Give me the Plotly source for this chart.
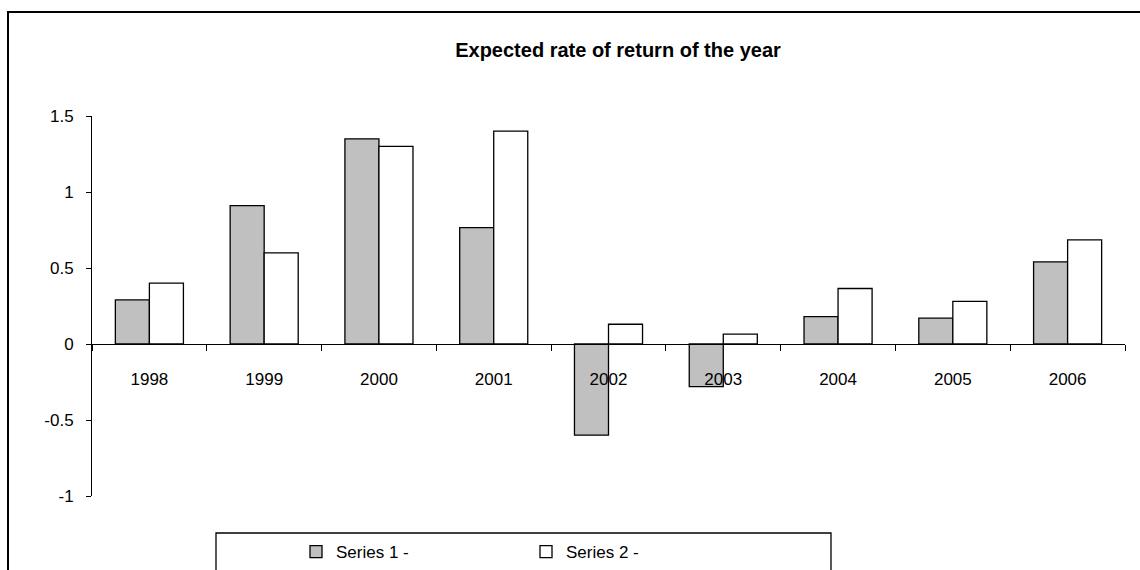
import plotly.graph_objects as go

# Yearly expected rate of return, two series
years = ["1998", "1999", "2000", "2001", "2002", "2003", "2004", "2005", "2006"]
series1 = [0.29, 0.91, 1.35, 0.765, -0.60, -0.28, 0.18, 0.17, 0.54]
series2 = [0.40, 0.60, 1.30, 1.40, 0.13, 0.065, 0.365, 0.28, 0.685]
series_names = ["Series 1 -", "Series 2 -"]
y_ticks = [1.5, 1, 0.5, 0, -0.5, -1]
y_tick_text = ["1.5", "1", "0.5", "0", "-0.5", "-1"]

FONT = "Liberation Sans, Arial, sans-serif"
W, H = 1140, 570
ML, MR, MT, MB = 92, 15, 116, 74
PW, PH = W - ML - MR, H - MT - MB

fig = go.Figure()
fig.add_trace(go.Bar(
    x=years, y=series1, name=series_names[0],
    marker=dict(color="#c0c0c0", line=dict(color="black", width=1.3)),
))
fig.add_trace(go.Bar(
    x=years, y=series2, name=series_names[1],
    marker=dict(color="white", line=dict(color="black", width=1.3)),
))

y_min, y_max = -1, 1.5
zero_pos = (0 - y_min) / (y_max - y_min)


def px_x(px):
    return (px - ML) / PW


def px_y(py):
    return (H - MB - py) / PH


fig.update_layout(
    width=W, height=H,
    margin=dict(l=ML, r=MR, t=MT, b=MB, autoexpand=False),
    paper_bgcolor="white", plot_bgcolor="white",
    font=dict(family=FONT, size=17, color="black"),
    barmode="group", bargap=0.407, bargroupgap=0,
    title=dict(
        text="<b>Expected rate of return of the year</b>",
        font=dict(family=FONT, size=20, color="black"),
        x=618 / W, xref="container", xanchor="center",
        y=1 - 50 / H, yref="container", yanchor="middle",
    ),
    xaxis=dict(
        anchor="free", position=zero_pos,
        showline=True, linecolor="black", linewidth=1,
        ticks="outside", tickson="boundaries", ticklen=6, tickcolor="black",
        tickfont=dict(family=FONT, size=17, color="black"),
        ticklabelstandoff=20,
        showgrid=False, zeroline=False,
    ),
    yaxis=dict(
        range=[y_min, y_max],
        tickvals=y_ticks, ticktext=y_tick_text,
        showline=True, linecolor="black", linewidth=1,
        ticks="outside", ticklen=5, tickcolor="black",
        tickfont=dict(family=FONT, size=17, color="black"),
        ticklabelstandoff=9,
        showgrid=False, zeroline=False,
    ),
    legend=dict(
        orientation="h",
        x=px_x(296), xanchor="left",
        y=px_y(552), yanchor="middle",
        bgcolor="rgba(0,0,0,0)", borderwidth=0,
        entrywidth=185, entrywidthmode="pixels",
        font=dict(family=FONT, size=17, color="black"),
    ),
    shapes=[
        # chart frame
        dict(type="rect", xref="paper", yref="paper",
             x0=px_x(8), x1=1.3, y0=-0.6, y1=px_y(12),
             line=dict(color="black", width=2), fillcolor="rgba(0,0,0,0)",
             layer="below"),
        # legend frame
        dict(type="rect", xref="paper", yref="paper",
             x0=px_x(216), x1=px_x(831), y0=-0.4, y1=px_y(533),
             line=dict(color="black", width=1.3), fillcolor="rgba(0,0,0,0)",
             layer="below"),
    ],
)

fig.write_html("out.html")
